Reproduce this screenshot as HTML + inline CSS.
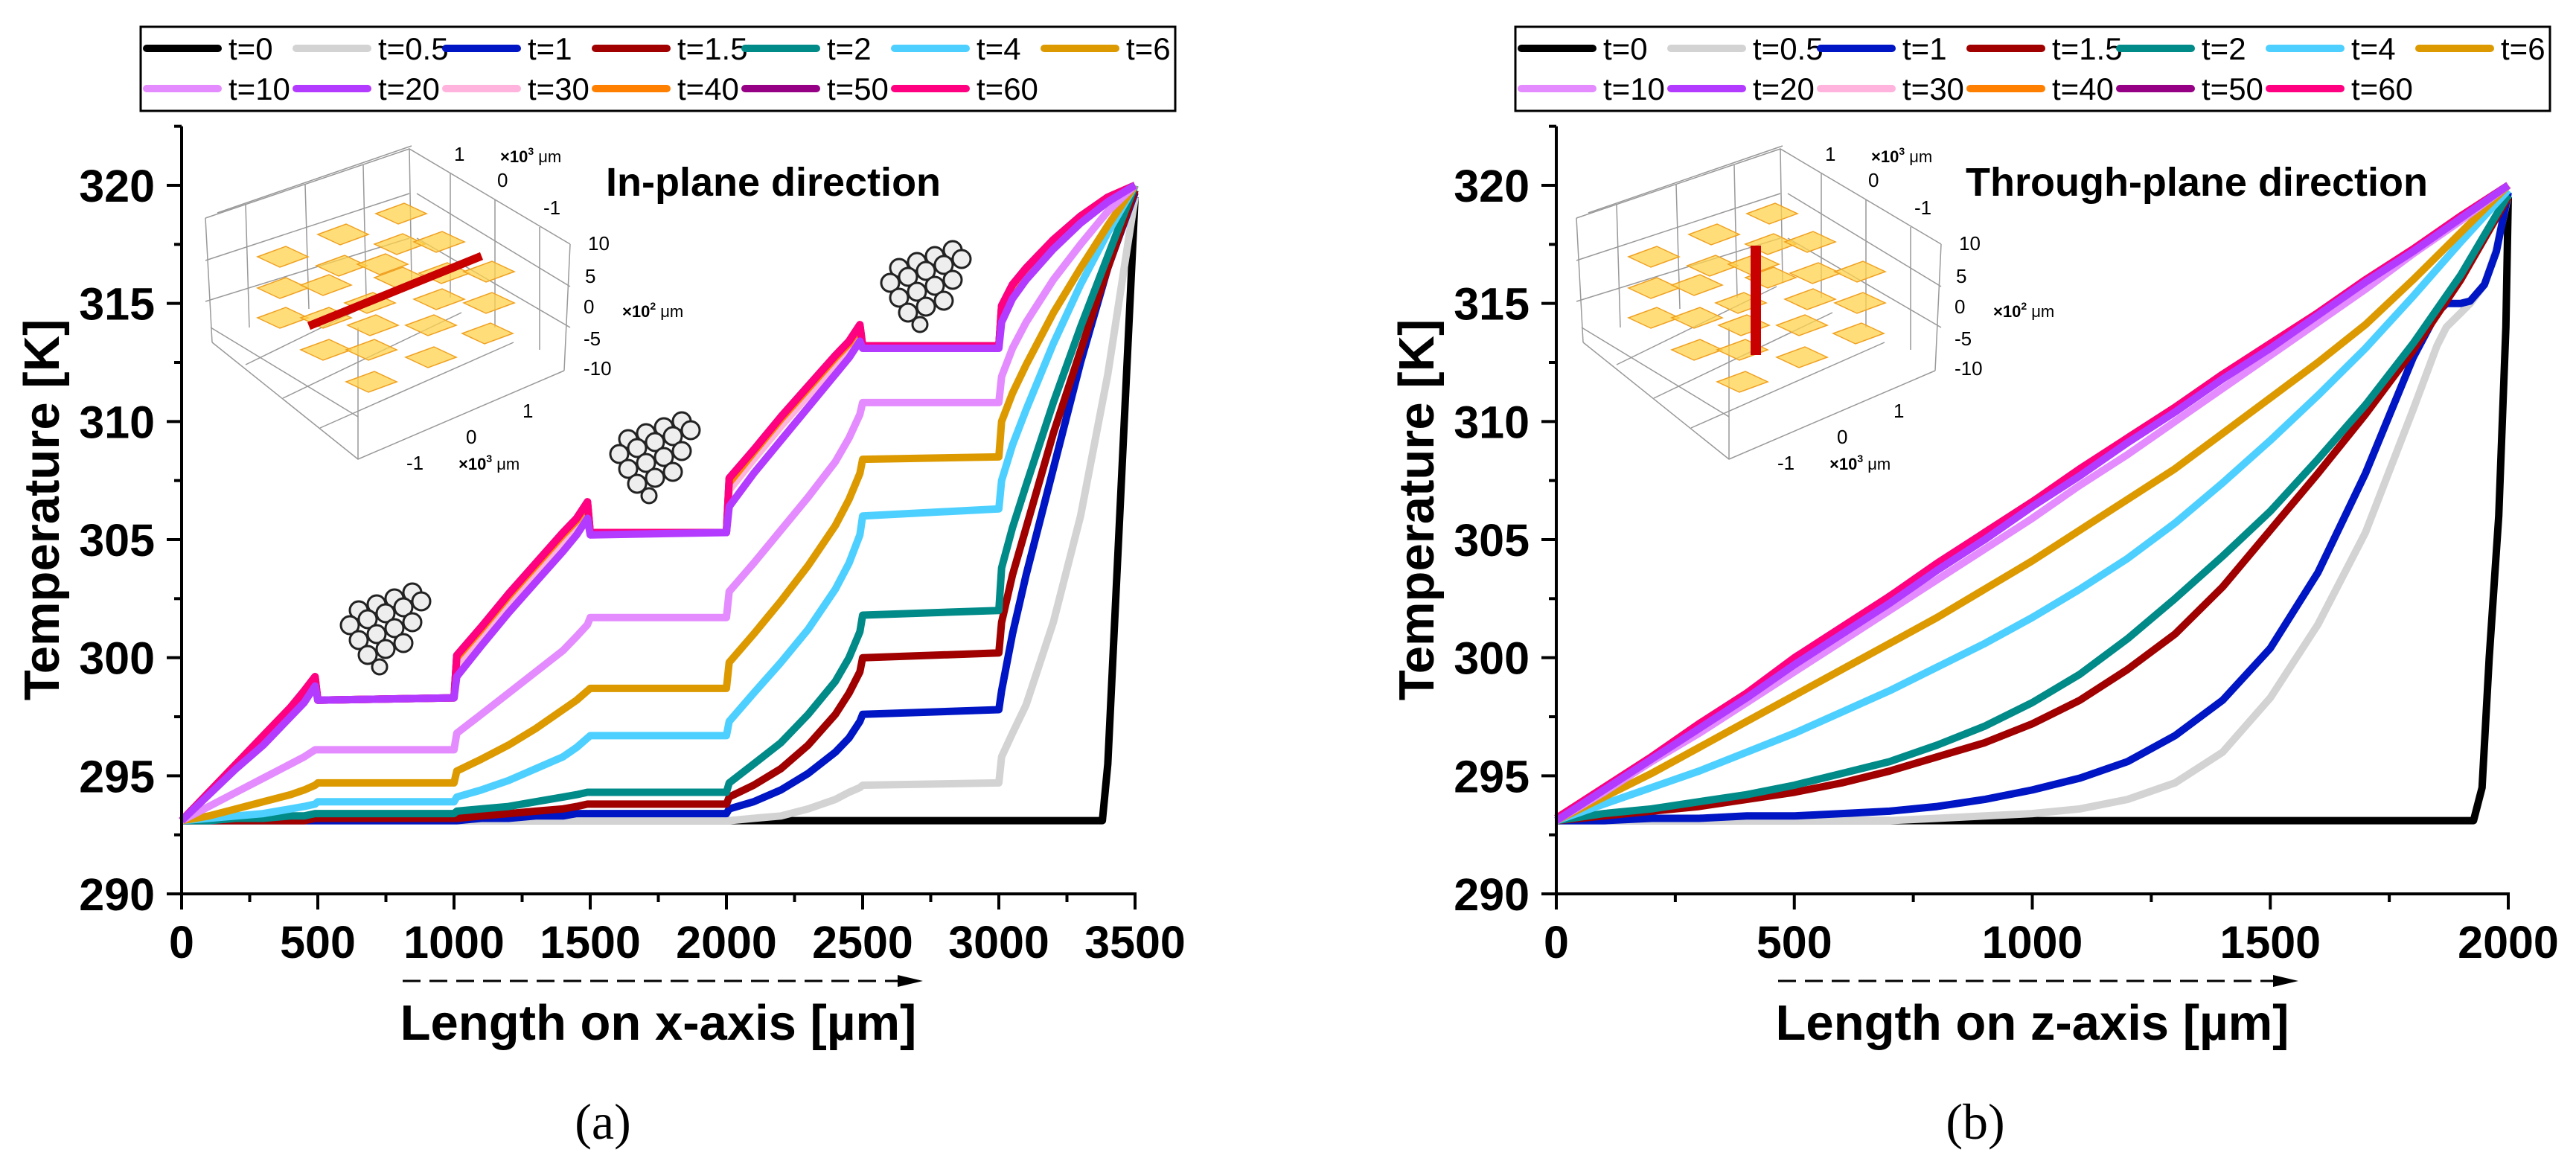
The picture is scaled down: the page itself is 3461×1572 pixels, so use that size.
<!DOCTYPE html>
<html><head><meta charset="utf-8"><style>
html,body{margin:0;padding:0;background:#fff}
svg{display:block;font-family:"Liberation Sans",Arial,sans-serif}
</style></head><body>
<svg id="fig" width="3461" height="1572" viewBox="0 0 3461 1572" xmlns="http://www.w3.org/2000/svg">
<defs>
<g id="flake">
<g fill="#eee" stroke="#222" stroke-width="3">
<circle cx="0" cy="0" r="12"/><circle cx="24" cy="-8" r="12"/><circle cx="48" cy="-16" r="12"/><circle cx="72" cy="-24" r="12"/>
<circle cx="-12" cy="20" r="12"/><circle cx="12" cy="12" r="12"/><circle cx="36" cy="4" r="12"/><circle cx="60" cy="-4" r="12"/><circle cx="84" cy="-12" r="12"/>
<circle cx="0" cy="40" r="12"/><circle cx="24" cy="32" r="12"/><circle cx="48" cy="24" r="12"/><circle cx="72" cy="16" r="12"/>
<circle cx="12" cy="60" r="12"/><circle cx="36" cy="52" r="12"/><circle cx="60" cy="44" r="12"/>
<circle cx="28" cy="76" r="10"/>
</g>
</g>
<g id="inset3d">
<g fill="none" stroke="#999" stroke-width="1.5">
<polyline points="276,293 550,200 766,328"/>
<polyline points="285,460 481,617 758,498"/>
<line x1="276" y1="293" x2="285" y2="460"/><line x1="766" y1="328" x2="758" y2="498"/>
<line x1="550" y1="200" x2="553" y2="380"/><line x1="481" y1="440" x2="481" y2="617"/>
<line x1="330" y1="275" x2="335" y2="440"/><line x1="410" y1="248" x2="415" y2="415"/><line x1="488" y1="222" x2="492" y2="400"/>
<line x1="605" y1="232" x2="605" y2="400"/><line x1="665" y1="268" x2="665" y2="440"/><line x1="725" y1="305" x2="725" y2="470"/>
<line x1="276" y1="350" x2="550" y2="260"/><line x1="276" y1="405" x2="550" y2="320"/>
<line x1="560" y1="260" x2="766" y2="385"/><line x1="560" y1="320" x2="766" y2="440"/>
<line x1="283" y1="440" x2="481" y2="560"/><line x1="330" y1="490" x2="545" y2="385"/><line x1="380" y1="535" x2="620" y2="420"/><line x1="430" y1="575" x2="690" y2="460"/>
<line x1="292" y1="286" x2="553" y2="196"/>
</g>
<g fill="#ffd34d" fill-opacity="0.75" stroke="#f0a020" stroke-width="1.5">
<path d="M505,287 l38,-14 l30,14 l-38,14z"/><path d="M427,315 l38,-14 l30,14 l-38,14z"/><path d="M346,345 l38,-14 l30,14 l-38,14z"/>
<path d="M503,328 l38,-14 l30,14 l-38,14z"/><path d="M556,325 l38,-14 l30,14 l-38,14z"/><path d="M425,357 l38,-14 l30,14 l-38,14z"/>
<path d="M480,355 l38,-14 l30,14 l-38,14z"/><path d="M346,387 l38,-14 l30,14 l-38,14z"/><path d="M404,383 l38,-14 l30,14 l-38,14z"/>
<path d="M503,373 l38,-14 l30,14 l-38,14z"/><path d="M563,367 l38,-14 l30,14 l-38,14z"/><path d="M623,365 l38,-14 l30,14 l-38,14z"/>
<path d="M346,427 l38,-14 l30,14 l-38,14z"/><path d="M404,427 l38,-14 l30,14 l-38,14z"/><path d="M463,407 l38,-14 l30,14 l-38,14z"/>
<path d="M556,402 l38,-14 l30,14 l-38,14z"/><path d="M623,407 l38,-14 l30,14 l-38,14z"/><path d="M467,437 l38,-14 l30,14 l-38,14z"/>
<path d="M545,437 l38,-14 l30,14 l-38,14z"/><path d="M621,448 l38,-14 l30,14 l-38,14z"/><path d="M404,470 l38,-14 l30,14 l-38,14z"/>
<path d="M465,470 l38,-14 l30,14 l-38,14z"/><path d="M545,480 l38,-14 l30,14 l-38,14z"/><path d="M465,513 l38,-14 l30,14 l-38,14z"/>
</g>
<g font-size="26" fill="#000">
<text x="610" y="216">1</text><text x="672" y="218" font-size="22" font-weight="bold">×10<tspan font-size="14" dy="-10">3</tspan><tspan dy="10" font-weight="normal"> μm</tspan></text>
<text x="668" y="251">0</text><text x="730" y="288">-1</text>
<text x="790" y="336">10</text><text x="786" y="380">5</text><text x="784" y="421">0</text>
<text x="836" y="426" font-size="22" font-weight="bold">×10<tspan font-size="14" dy="-10">2</tspan><tspan dy="10" font-weight="normal"> μm</tspan></text>
<text x="784" y="464">-5</text><text x="784" y="504">-10</text>
<text x="702" y="561">1</text><text x="626" y="596">0</text><text x="546" y="631">-1</text>
<text x="616" y="631" font-size="22" font-weight="bold">×10<tspan font-size="14" dy="-10">3</tspan><tspan dy="10" font-weight="normal"> μm</tspan></text>
</g>
</g>
</defs>
<g id="panelA"></g>
<g id="panelB"></g>
</svg>
<script>
// ---------- Panel (a) data ----------
const XA = [0,100,200,300,400,450,490,500,1000,1010,1100,1200,1300,1400,1450,1490,1500,2000,2010,2100,2200,2300,2400,2450,2490,2500,3000,3010,3050,3100,3200,3300,3400,3500];
const A_t0_x = [0,3380,3400,3500];
const A_t0 = [293.1,293.1,295.5,319.5];
const A_t05 = [293.1,293.1,293.1,293.1,293.1,293.1,293.1,293.1, 293.1,293.1,293.1,293.1,293.1,293.1,293.1,293.1,293.1, 293.1,293.1,293.2,293.3,293.6,294.0,294.3,294.5,294.6, 294.7,295.8,296.8,298,301.5,306,312,319.5];
const A_t1 = [293.1,293.1,293.1,293.1,293.1,293.1,293.1,293.1, 293.1,293.1,293.2,293.2,293.3,293.3,293.4,293.4,293.4, 293.4,293.6,293.9,294.4,295.1,296.0,296.6,297.3,297.6, 297.8,298.6,301,303.5,308,312.5,316.5,319.7];
const A_t15 = [293.1,293.1,293.1,293.1,293.1,293.1,293.2,293.2, 293.2,293.2,293.3,293.4,293.5,293.6,293.7,293.8,293.8, 293.8,294.1,294.6,295.3,296.3,297.6,298.5,299.4,300.0, 300.2,301.5,303.5,305.5,309.5,313,316.5,319.8];
const A_t2 = [293.1,293.1,293.2,293.2,293.3,293.3,293.4,293.4, 293.4,293.5,293.6,293.7,293.9,294.1,294.2,294.3,294.3, 294.3,294.7,295.5,296.4,297.6,299.0,300.0,301.1,301.8, 302.0,303.8,305.5,307.3,310.8,314,317,320];
const A_t4 = [293.1,293.2,293.3,293.4,293.6,293.7,293.8,293.9, 293.9,294.1,294.4,294.8,295.3,295.8,296.2,296.6,296.7, 296.7,297.3,298.5,299.8,301.2,302.9,304.0,305.2,306.0, 306.3,307.5,309,310.5,313.3,315.8,318,320];
const A_t6 = [293.1,293.3,293.6,293.9,294.2,294.4,294.6,294.7, 294.7,295.2,295.7,296.3,297.0,297.8,298.2,298.6,298.7, 298.7,299.8,301.0,302.4,303.9,305.6,306.7,307.8,308.4, 308.5,310.0,311.2,312.4,314.6,316.5,318.3,320];
const A_t10 = [293.1,293.7,294.3,294.9,295.5,295.8,296.1,296.1, 296.1,296.8,297.6,298.5,299.4,300.3,300.9,301.4,301.7, 301.7,302.8,304.0,305.4,306.8,308.3,309.3,310.3,310.8, 310.8,311.9,313.1,314.2,316.0,317.5,318.9,320];
const A_t20 = [293.1,294.2,295.3,296.3,297.5,298.1,298.8,298.2, 298.3,299.2,300.5,301.9,303.2,304.5,305.2,305.9,305.2, 305.3,306.4,307.8,309.2,310.6,312.0,312.7,313.4,313.1, 313.1,314.2,315.2,316.0,317.3,318.4,319.3,320];
const A_t30 = [293.1,294.25,295.4,296.5,297.7,298.3,299.0,298.2, 298.3,299.7,300.9,302.3,303.6,304.9,305.6,306.3,305.3, 305.3,307.1,308.4,309.8,311.1,312.4,313.1,313.8,313.2, 313.2,314.6,315.6,316.3,317.5,318.6,319.4,320];
const A_t40 = [293.1,294.3,295.5,296.6,297.8,298.5,299.1,298.2, 298.3,300.0,301.2,302.6,303.9,305.2,305.8,306.5,305.3, 305.3,307.4,308.7,310.1,311.4,312.7,313.3,314.0,313.2, 313.2,314.8,315.7,316.4,317.6,318.7,319.5,320];
const A_t50 = [293.1,294.3,295.5,296.7,297.9,298.6,299.2,298.2, 298.3,300.1,301.3,302.7,304.0,305.3,305.9,306.6,305.3, 305.3,307.6,308.8,310.2,311.5,312.8,313.4,314.1,313.2, 313.2,314.9,315.8,316.5,317.7,318.7,319.5,320];
const A_t60 = [293.1,294.3,295.5,296.7,297.9,298.6,299.2,298.2, 298.3,300.1,301.3,302.7,304.0,305.3,305.9,306.6,305.3, 305.3,307.6,308.8,310.2,311.5,312.8,313.4,314.1,313.2, 313.2,314.9,315.8,316.5,317.7,318.7,319.5,320];
const A_xticks = [0,500,1000,1500,2000,2500,3000,3500];

// ---------- Panel (b) data ----------
const XB = [0,100,200,300,400,500,600,700,800,900,1000,1100,1200,1300,1400,1500,1600,1700,1800,1900,2000];
const B_t0_x = [0,1927,1945,1960,1980,1995,2000];
const B_t0 = [293.1,293.1,294.5,300,306,314,319.5];
const B_t05_x = [0,100,200,300,400,500,600,700,800,900,1000,1100,1200,1300,1400,1500,1600,1700,1800,1850,1870,1900,1920,1950,1975,2000];
const B_t05 = [293.1,293.1,293.1,293.1,293.1,293.1,293.1,293.1,293.2,293.3,293.4,293.6,294.0,294.7,296.0,298.3,301.4,305.3,310.5,313.2,314.0,314.6,315.0,315.8,317.3,319.6];
const B_t1_x = [0,100,200,300,400,500,600,700,800,900,1000,1100,1200,1300,1400,1500,1600,1700,1800,1850,1870,1900,1920,1950,1975,2000];
const B_t1 = [293.1,293.1,293.2,293.2,293.3,293.3,293.4,293.5,293.7,294.0,294.4,294.9,295.6,296.7,298.2,300.4,303.6,307.8,312.7,314.6,315.0,315.0,315.1,315.8,317.2,319.7];
const B_t15 = [293.1,293.3,293.5,293.7,294.0,294.3,294.7,295.2,295.8,296.4,297.2,298.2,299.5,301.0,303.0,305.4,307.8,310.3,313.0,316.0,319.5];
const B_t2 = [293.1,293.4,293.6,293.9,294.2,294.6,295.1,295.6,296.3,297.1,298.1,299.3,300.8,302.5,304.3,306.2,308.4,310.7,313.3,316.2,319.6];
const B_t4 = [293.1,293.8,294.5,295.2,296.0,296.8,297.7,298.6,299.6,300.6,301.7,302.9,304.2,305.7,307.4,309.2,311.1,313.1,315.3,317.6,319.8];
const B_t6 = [293.1,294.1,295.1,296.2,297.3,298.4,299.5,300.6,301.7,302.9,304.1,305.4,306.7,308.0,309.5,311.0,312.5,314.1,316.0,318.0,320];
const B_t10 = [293.1,294.3,295.6,296.8,298.1,299.4,300.7,302.0,303.3,304.6,305.9,307.3,308.6,310.0,311.4,312.8,314.2,315.6,317.1,318.5,320];
const B_t20 = [293.1,294.4,295.7,297.0,298.3,299.7,301.0,302.3,303.7,305.0,306.4,307.7,309.1,310.4,311.8,313.1,314.5,315.9,317.2,318.6,320];
const B_t30 = [293.2,294.5,295.8,297.1,298.4,299.8,301.1,302.5,303.8,305.2,306.5,307.8,309.2,310.5,311.9,313.2,314.6,315.9,317.3,318.6,320];
const B_t40 = [293.2,294.5,295.8,297.2,298.5,299.9,301.2,302.6,303.9,305.3,306.6,307.9,309.3,310.6,312.0,313.3,314.6,316.0,317.3,318.7,320];
const B_t50 = [293.2,294.5,295.8,297.2,298.5,299.9,301.2,302.6,303.9,305.3,306.6,307.9,309.3,310.6,312.0,313.3,314.6,316.0,317.3,318.7,320];
const B_t60 = [293.2,294.5,295.8,297.2,298.5,300.0,301.3,302.6,304.0,305.3,306.6,308.0,309.3,310.6,312.0,313.3,314.6,316.0,317.3,318.7,320];
const B_xticks = [0,500,1000,1500,2000];

const yTicks = [290,295,300,305,310,315,320];
const legendLabels = ["t=0","t=0.5","t=1","t=1.5","t=2","t=4","t=6","t=10","t=20","t=30","t=40","t=50","t=60"];
const colors = ["#000000","#d3d3d3","#0015c4","#a00000","#008a88","#4dd0ff","#dc9a00","#e38bff","#b33bff","#ffb3dd","#ff8000","#950085","#ff0080"];
const drawOrder = [0,1,2,3,4,5,6,7,9,10,11,12,8];

const NS = "http://www.w3.org/2000/svg";
function mk(parent, tag, attrs){
  const el = document.createElementNS(NS, tag);
  for (const k in attrs) el.setAttribute(k, attrs[k]);
  parent.appendChild(el);
  return el;
}

function drawPanel(g, cfg){
  const xs = v => cfg.x0 + (v - cfg.xmin) / (cfg.xmax - cfg.xmin) * (cfg.x1 - cfg.x0);
  const ys = v => cfg.y0 - (v - 290) / 30 * (cfg.y0 - cfg.y1);
  const yTop = ys(322.5);
  const lg = mk(g, 'g', {});
  
  
  const lb = mk(lg, 'rect', {x: cfg.lx, y: 36, width: 1390, height: 113, fill: '#fff', stroke: '#000', 'stroke-width': 3});
  
  
  legendLabels.forEach((lab, i) => {
    const col = i < 7 ? i : i - 7, row = i < 7 ? 0 : 1;
    const bx = cfg.lx + 3 + col * 201, by = 65 + row * 54;
    const ent = mk(lg, 'g', {});
    
    
    mk(ent, 'line', {x1: bx + 5, y1: by, x2: bx + 101, y2: by, stroke: colors[i], 'stroke-width': 10, 'stroke-linecap': 'round'});
    const t = mk(ent, 'text', {x: bx + 115, y: by + 15, 'font-size': 42, fill: '#000'});
    t.textContent = lab;
  });
  drawOrder.forEach(i => {
    const s = cfg.series[i];
    const pts = s.ys.map((v, k) => xs(s.xs[k]).toFixed(1) + ',' + ys(v).toFixed(1)).join(' ');
    const pl = mk(g, 'polyline', {points: pts, fill: 'none', stroke: colors[i], 'stroke-width': 10, 'stroke-linejoin': 'round'});
    
    
  });
  const ax = mk(g, 'g', {stroke: '#000', 'stroke-width': 4});
  
  
  mk(ax, 'line', {x1: cfg.x0, y1: yTop, x2: cfg.x0, y2: cfg.y0 + 2});
  mk(ax, 'line', {x1: cfg.x0 - 2, y1: cfg.y0, x2: cfg.x1 + 2, y2: cfg.y0});
  const step = cfg.xticks[1] - cfg.xticks[0];
  cfg.xticks.forEach((v, k) => {
    mk(ax, 'line', {x1: xs(v), y1: cfg.y0, x2: xs(v), y2: cfg.y0 + 21});
    if (k < cfg.xticks.length - 1) mk(ax, 'line', {x1: xs(v + step / 2), y1: cfg.y0, x2: xs(v + step / 2), y2: cfg.y0 + 11});
    const t = mk(g, 'text', {x: xs(v), y: 1287, 'font-size': 61, 'font-weight': 'bold', 'text-anchor': 'middle'});
    
    
    t.textContent = v;
  });
  yTicks.forEach((v, k) => {
    mk(ax, 'line', {x1: cfg.x0 - 20, y1: ys(v), x2: cfg.x0, y2: ys(v)});
    mk(ax, 'line', {x1: cfg.x0 - 10, y1: ys(v + 2.5), x2: cfg.x0, y2: ys(v + 2.5)});
    const t = mk(g, 'text', {x: cfg.x0 - 36, y: ys(v) + 22, 'font-size': 61, 'font-weight': 'bold', 'text-anchor': 'end'});
    
    
    t.textContent = v;
  });
  const yt = mk(g, 'text', {x: 0, y: 0, 'font-size': 67, 'font-weight': 'bold', 'text-anchor': 'middle', transform: 'translate(' + (cfg.x0 - 165) + ',685) rotate(-90)'});
  
  
  yt.textContent = 'Temperature [K]';
  const xt = mk(g, 'text', {x: (cfg.x0 + cfg.x1) / 2, y: 1397, 'font-size': 67, 'font-weight': 'bold', 'text-anchor': 'middle'});
  
  
  xt.textContent = cfg.xtitle;
  const ar = mk(g, 'g', {});
  
  
  mk(ar, 'line', {x1: cfg.ax0, y1: 1318, x2: cfg.ax1 - 20, y2: 1318, stroke: '#000', 'stroke-width': 3, 'stroke-dasharray': '24,12'});
  mk(ar, 'path', {d: 'M' + cfg.ax1 + ',1318 l-34,-8 l0,16 z', fill: '#000'});
  const cap = mk(g, 'text', {x: cfg.capx, y: 1530, 'font-size': 68, 'text-anchor': 'middle', 'font-family': '"Liberation Serif", serif'});
  
  
  cap.textContent = cfg.caption;
  const it = mk(g, 'text', {x: cfg.itx, y: 263, 'font-size': 54, 'font-weight': 'bold'});
  
  
  it.textContent = cfg.ititle;
}

const gA = document.getElementById('panelA');
const gB = document.getElementById('panelB');

const insA = mk(gA, 'use', {href: '#inset3d'});


const redA = mk(gA, 'line', {x1: 415, y1: 438, x2: 647, y2: 344, stroke: '#c80000', 'stroke-width': 11});


[[470,828],[832,598],[1196,368]].forEach(p => {
  const f = mk(gA, 'use', {href: '#flake', x: p[0] + 12, y: p[1] - 8});
  
  
});
const insB = mk(gB, 'use', {href: '#inset3d', x: 1842, y: 0});


const redB = mk(gB, 'rect', {x: 2352, y: 330, width: 14, height: 147, fill: '#c80000'});



drawPanel(gA, {x0: 244, x1: 1525, xmin: 0, xmax: 3500, y0: 1201, y1: 249, lx: 189,
  xticks: A_xticks, xtitle: 'Length on x-axis [µm]', ax0: 541, ax1: 1240, capx: 810, caption: '(a)',
  itx: 814, ititle: 'In-plane direction',
  series: [{xs: A_t0_x, ys: A_t0},{xs: XA, ys: A_t05},{xs: XA, ys: A_t1},{xs: XA, ys: A_t15},{xs: XA, ys: A_t2},{xs: XA, ys: A_t4},{xs: XA, ys: A_t6},{xs: XA, ys: A_t10},{xs: XA, ys: A_t20},{xs: XA, ys: A_t30},{xs: XA, ys: A_t40},{xs: XA, ys: A_t50},{xs: XA, ys: A_t60}]});
drawPanel(gB, {x0: 2091, x1: 3370, xmin: 0, xmax: 2000, y0: 1201, y1: 249, lx: 2036,
  xticks: B_xticks, xtitle: 'Length on z-axis [µm]', ax0: 2389, ax1: 3088, capx: 2654, caption: '(b)',
  itx: 2641, ititle: 'Through-plane direction',
  series: [{xs: B_t0_x, ys: B_t0},{xs: B_t05_x, ys: B_t05},{xs: B_t1_x, ys: B_t1},{xs: XB, ys: B_t15},{xs: XB, ys: B_t2},{xs: XB, ys: B_t4},{xs: XB, ys: B_t6},{xs: XB, ys: B_t10},{xs: XB, ys: B_t20},{xs: XB, ys: B_t30},{xs: XB, ys: B_t40},{xs: XB, ys: B_t50},{xs: XB, ys: B_t60}]});
</script>
</body></html>
